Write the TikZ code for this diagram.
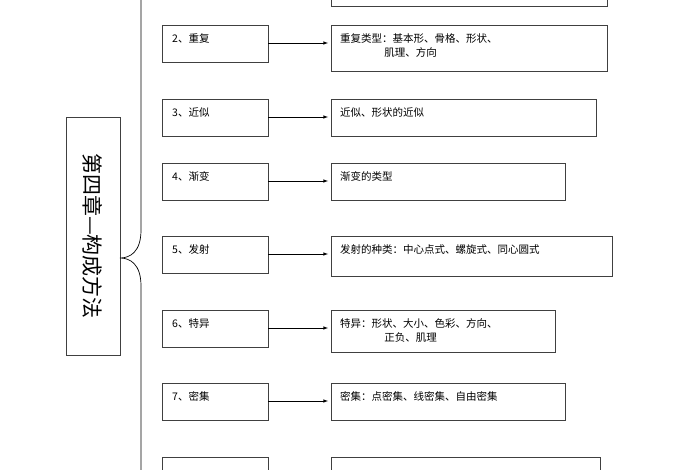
\documentclass[tikz,border=0pt]{standalone}
\usepackage{fontspec}
\newfontfamily\cjk{Noto Sans CJK SC}
\begin{document}
\begin{tikzpicture}[x=1pt,y=-1pt,
  bx/.style={draw=black!75,line width=0.8pt},
  tx/.style={font=\cjk\fontsize{10.5}{14}\selectfont,anchor=north west,inner sep=0pt,align=left},
  ar/.style={-latex,line width=0.6pt}]
\useasboundingbox (0,0) rectangle (700,470);
\draw[bx] (66,117) rectangle (120,355);
\node[font=\cjk\fontsize{21}{21}\selectfont,rotate=-90] (title) at (93,236) {第四章—构成方法};
\draw[line width=0.7pt] (141,-2) -- (141,230) .. controls (141,252) and (130,258) .. (120,258)
  .. controls (130,258) and (141,264) .. (141,286) -- (141,472);
\foreach \i/\y/\a/\r/\b/\h in {
  1/-40/{}/607/{}/46,
  2/25/{2、重复}/607/{重复类型：基本形、骨格、形状、\\\hspace{4.2em}肌理、方向}/46,
  3/99/{3、近似}/596/{近似、形状的近似}/37,
  4/163/{4、渐变}/565/{渐变的类型}/37,
  5/236/{5、发射}/612/{发射的种类：中心点式、螺旋式、同心圆式}/40,
  6/310/{6、特异}/555/{特异：形状、大小、色彩、方向、\\\hspace{4.2em}正负、肌理}/42,
  7/383/{7、密集}/565/{密集：点密集、线密集、自由密集}/37,
  8/457/{}/600/{}/40}{
  \draw[bx] (162,\y) rectangle (268,\y+37);
  \node[tx] (l\i) at (172,\y+8) {\a};
  \draw[bx] (331,\y) rectangle (\r,\y+\h);
  \node[tx] (r\i) at (340,\y+8) {\b};
  \coordinate (s\i) at (268,\y+18);
  \coordinate (e\i) at (328,\y+18);
  \draw[ar] (s\i) -- (e\i);
}
\end{tikzpicture}
\end{document}
